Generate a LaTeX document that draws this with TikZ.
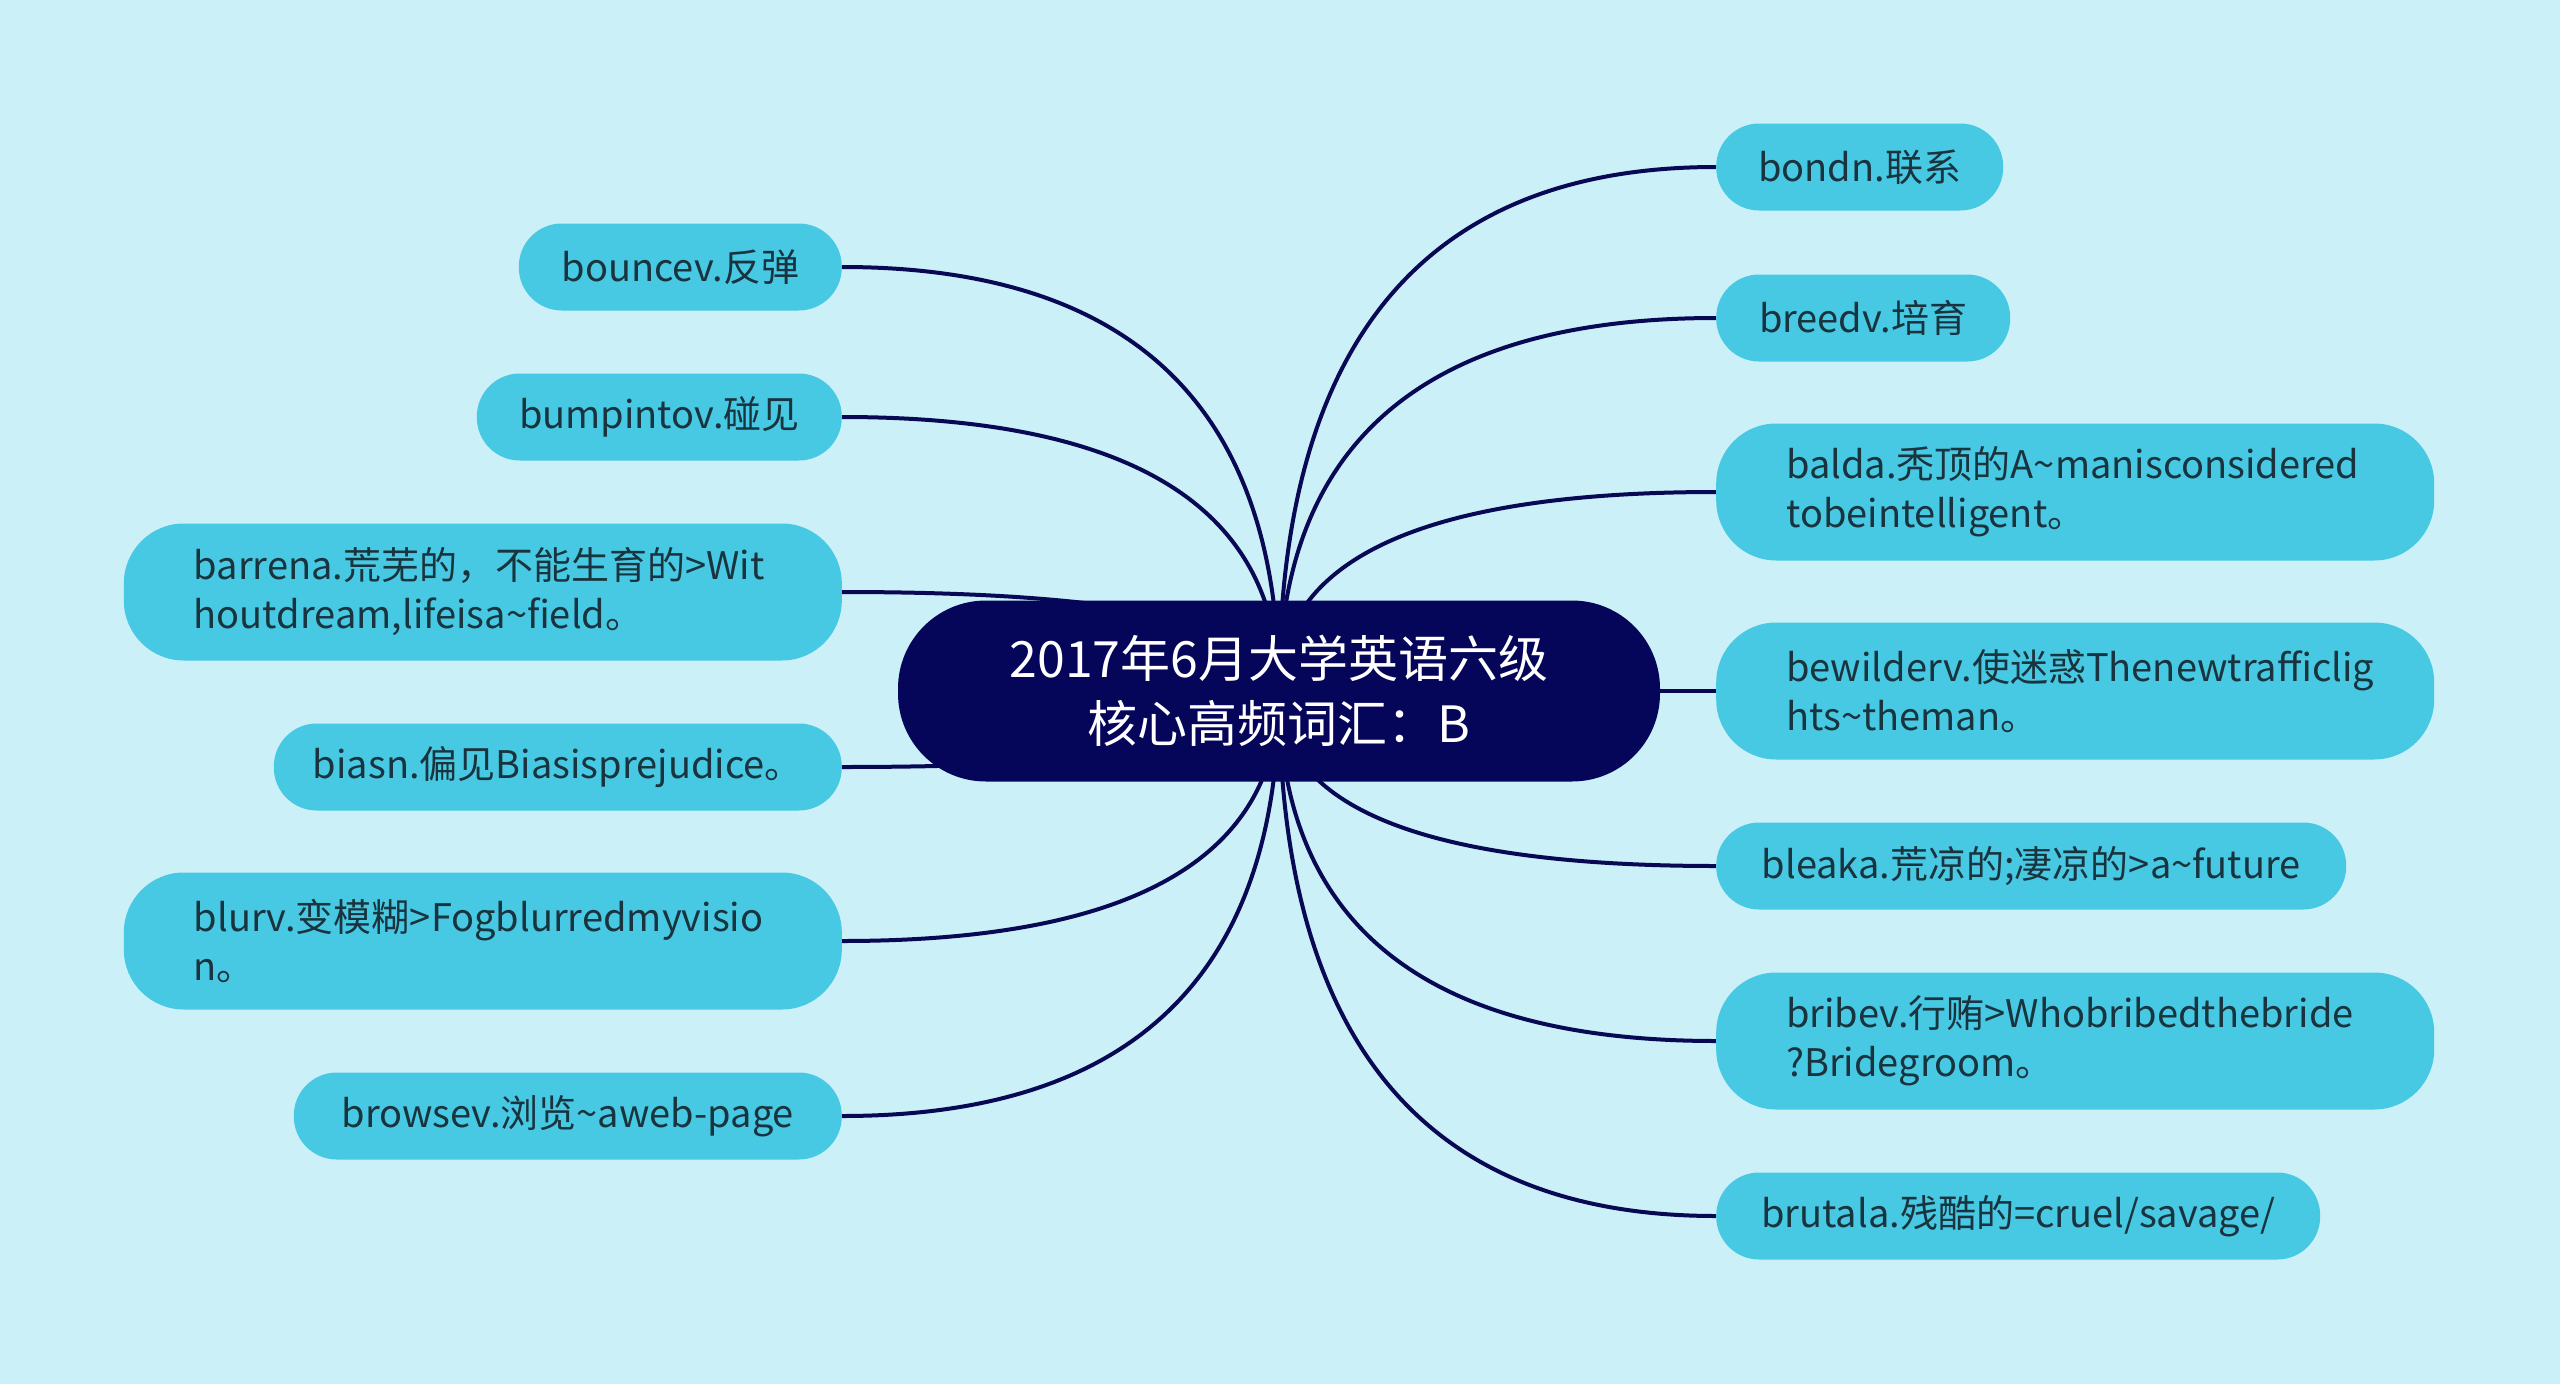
\documentclass[tikz,border=0pt]{standalone}
\usepackage{fontspec}
\setmainfont{Noto Sans CJK SC}
\usetikzlibrary{backgrounds,calc}
\definecolor{bgc}{RGB}{203,240,248}
\definecolor{leafc}{RGB}{72,201,227}
\definecolor{rootc}{RGB}{5,5,90}
\definecolor{linec}{RGB}{8,8,85}
\definecolor{txtc}{RGB}{25,52,62}
\newcommand{\tld}{\textasciitilde{}}
\tikzset{
  leaf/.style={fill=leafc, text=txtc, font=\fontsize{38}{49}\selectfont, inner sep=0pt, minimum height=87pt, rounded corners=43pt},
  leafm/.style={leaf, minimum height=137pt, text width=578pt, inner xsep=70pt, align=left, rounded corners=60pt},
  rootbox/.style={fill=rootc, text=white, font=\fontsize{50}{65}\selectfont, inner sep=0pt, minimum width=762pt, minimum height=181pt, rounded corners=88pt, align=center},
  conn/.style={draw=linec, line width=4pt}
}
\begin{document}
\begin{tikzpicture}[x=1pt,y=-1pt]
\useasboundingbox (0,0) rectangle (2560,1384);
\node[rootbox] (root) at (1279,691) {2017年6月大学英语六级\\核心高频词汇：B};
% left
\node[leaf, anchor=east, minimum width=323pt] (l1) at (842,267) {bouncev.反弹};
\node[leaf, anchor=east, minimum width=365pt] (l2) at (842,417) {bumpintov.碰见};
\node[leafm, anchor=east] (l3) at (842,592) {barrena.荒芜的，不能生育的>Wit\\houtdream,lifeisa\tld field。};
\node[leaf, anchor=east, minimum width=568pt] (l4) at (842,767) {biasn.偏见Biasisprejudice。};
\node[leafm, anchor=east] (l5) at (842,941) {blurv.变模糊>Fogblurredmyvisio\\n。};
\node[leaf, anchor=east, minimum width=548pt] (l6) at (842,1116) {browsev.浏览\tld aweb-page};
% right
\node[leaf, anchor=west, minimum width=287pt] (r1) at (1716,167) {bondn.联系};
\node[leaf, anchor=west, minimum width=294pt] (r2) at (1716,318) {breedv.培育};
\node[leafm, anchor=west] (r3) at (1716,492) {balda.秃顶的A\tld manisconsidered\\tobeintelligent。};
\node[leafm, anchor=west] (r4) at (1716,691) {bewilderv.使迷惑Thenewtrafficlig\\hts\tld theman。};
\node[leaf, anchor=west, minimum width=630pt] (r5) at (1716,866) {bleaka.荒凉的;凄凉的>a\tld future};
\node[leafm, anchor=west] (r6) at (1716,1041) {bribev.行贿>Whobribedthebride\\?Bridegroom。};
\node[leaf, anchor=west, minimum width=604pt] (r7) at (1716,1216) {brutala.残酷的=cruel/savage/};
\begin{scope}[on background layer]
\fill[bgc] (0,0) rectangle (2560,1384);
\foreach \n in {l1,l2,l3,l4,l5,l6}
  \draw[conn] (root.center) .. controls ($(root.center)!2/3!(root.center |- \n.east)$) and ($(\n.east)!2/3!(root.center |- \n.east)$) .. (\n.east);
\foreach \n in {r1,r2,r3,r4,r5,r6,r7}
  \draw[conn] (root.center) .. controls ($(root.center)!2/3!(root.center |- \n.west)$) and ($(\n.west)!2/3!(root.center |- \n.west)$) .. (\n.west);
\end{scope}
\end{tikzpicture}
\end{document}
